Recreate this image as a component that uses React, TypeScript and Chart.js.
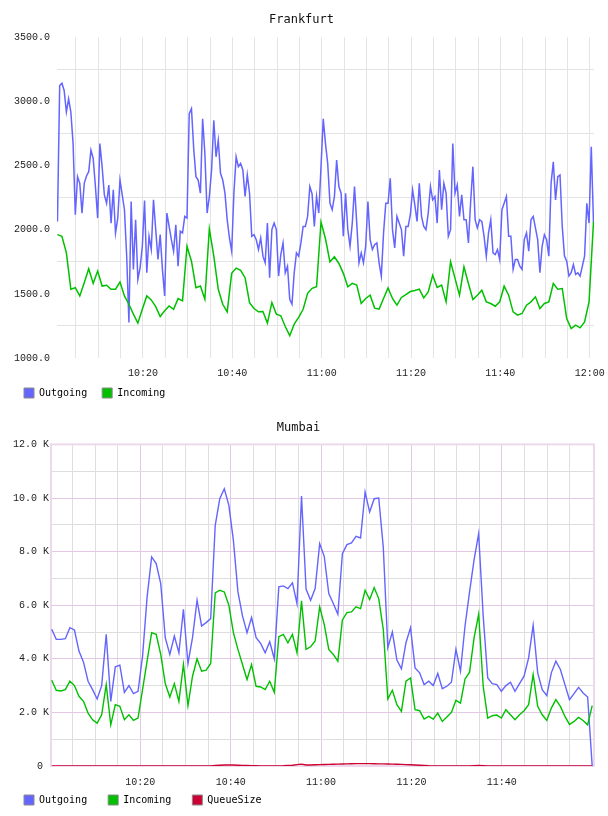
import React, { useEffect, useRef } from "react";
import { Chart, registerables } from "chart.js";

Chart.register(...registerables);

// ---------- Frankfurt (top) ----------
const topTitle = "Frankfurt";
const topSeriesNames = ["Outgoing", "Incoming"];
// minutes after 10:00
const topOutgoingStart = 0.85;
const topOutgoingStep = 0.5;
const topIncomingStart = 0.85;
const topIncomingStep = 1;
const topXRange = [0.75, 120.96];
const topYRange = [1000, 3500];
const topXTicks = [5, 10, 15, 20, 25, 30, 35, 40, 45, 50, 55, 60, 65, 70, 75, 80, 85, 90, 95, 100, 105, 110, 115, 120];
const topYTicks = [1000, 1250, 1500, 1750, 2000, 2250, 2500, 2750, 3000, 3250, 3500];

const topOutgoing = [
  2065, 3125, 3143, 3086, 2918, 3021, 2918, 2672, 2117, 2414,
  2362, 2130, 2362, 2419, 2453, 2621, 2556, 2337, 2091, 2672,
  2492, 2272, 2207, 2349, 2052, 2311, 1975, 2091, 2388, 2272,
  2156, 1794, 1277, 2220, 1691, 2078, 1613, 1703, 1871, 2228,
  1665, 1949, 1846, 2233, 2001, 1768, 1962, 1691, 1484, 2130,
  2026, 1923, 1833, 2039, 1716, 1988, 1975, 2104, 2091, 2905,
  2944, 2634, 2414, 2388, 2285, 2866, 2595, 2130, 2259, 2466,
  2853, 2569, 2698, 2440, 2388, 2285, 2078, 1936, 1833, 2285,
  2569, 2492, 2517, 2466, 2259, 2427, 2285, 1949, 1962, 1923,
  1846, 1936, 1794, 1742, 2052, 1626, 2001, 2052, 2001, 1639,
  1807, 1897, 1665, 1716, 1458, 1419, 1665, 1820, 1794, 1897,
  2026, 2026, 2104, 2337, 2280, 2026, 2259, 2130, 2492, 2866,
  2672, 2517, 2207, 2156, 2259, 2543, 2337, 2285, 1949, 2285,
  2001, 1871, 2052, 2337, 2052, 1742, 1820, 1742, 1871, 2220,
  1923, 1846, 1884, 1897, 1742, 1639, 1975, 2207, 2207, 2401,
  2001, 1859, 2104, 2052, 2001, 1794, 2026, 2026, 2117, 2311,
  2194, 2065, 2362, 2104, 2026, 2001, 2130, 2337, 2233, 2259,
  2052, 2466, 2156, 2362, 2285, 1949, 2001, 2672, 2285, 2349,
  2104, 2272, 2078, 2078, 1897, 2220, 2492, 2078, 2014, 2078,
  2065, 1949, 1794, 1975, 2078, 1820, 1807, 1846, 1768, 2156,
  2207, 2259, 1949, 1949, 1691, 1768, 1768, 1716, 1691, 1923,
  1975, 1833, 2078, 2104, 2014, 1923, 1665, 1871, 1962, 1923,
  1794, 2362, 2530, 2233, 2414, 2427, 2026, 1794, 1755, 1639,
  1665, 1729, 1652, 1665, 1639, 1716, 1794, 2207, 2052, 2647,
  2052,
];

const topIncoming = [
  1962, 1949, 1820, 1536, 1548, 1484, 1587, 1696, 1582, 1678,
  1561, 1567, 1536, 1536, 1592, 1484, 1419, 1342, 1272, 1380,
  1484, 1453, 1401, 1324, 1368, 1406, 1380, 1463, 1445, 1871,
  1755, 1548, 1561, 1458, 2006, 1794, 1536, 1419, 1360, 1660,
  1701, 1683, 1626, 1432, 1386, 1360, 1362, 1272, 1432, 1342,
  1329, 1246, 1174, 1264, 1316, 1380, 1504, 1543, 1556, 2060,
  1930, 1750, 1789, 1737, 1660, 1555, 1582, 1568, 1425, 1464,
  1490, 1389, 1381, 1464, 1547, 1464, 1412, 1472, 1495, 1518,
  1526, 1537, 1469, 1516, 1645, 1550, 1568, 1438, 1750, 1621,
  1490, 1711, 1581, 1456, 1490, 1529, 1438, 1425, 1404, 1438,
  1560, 1490, 1360, 1334, 1347, 1412, 1438, 1477, 1386, 1425,
  1438, 1581, 1537, 1542, 1308, 1230, 1256, 1235, 1282, 1438,
  2063,
];

// ---------- Mumbai (bottom) ----------
const bottomTitle = "Mumbai";
const bottomSeriesNames = ["Outgoing", "Incoming", "QueueSize"];
const bottomFirstTime = 0.4;
const bottomLastTime = 120.0;
const bottomXRange = [0.24, 120.4];
const bottomYRange = [0, 12000];
const bottomXTicks = [5, 10, 15, 20, 25, 30, 35, 40, 45, 50, 55, 60, 65, 70, 75, 80, 85, 90, 95, 100, 105, 110, 115];
const bottomYTicks = [0, 1000, 2000, 3000, 4000, 5000, 6000, 7000, 8000, 9000, 10000, 11000, 12000];

const bottomOutgoing = [
  5100, 4725, 4725, 4750, 5162, 5075, 4287, 3875, 3162, 2850,
  2500, 3000, 4912, 2412, 3700, 3762, 2750, 3000, 2700, 2787,
  4100, 6300, 7800, 7551, 6806, 4787, 4162, 4850, 4225, 5850,
  3825, 4787, 6185, 5225, 5350, 5500, 8980, 9973, 10346, 9725,
  8420, 6495, 5600, 4975, 5537, 4787, 4575, 4225, 4637, 4000,
  6682, 6719, 6620, 6831, 6061, 10073, 6600, 6185, 6620, 8297,
  7825, 6433, 6061, 5662, 7924, 8259, 8321, 8570, 8508, 10222,
  9476, 9973, 9998, 8172, 4412, 5000, 3950, 3625, 4600, 5162,
  3662, 3475, 3037, 3162, 3000, 3450, 2887, 2975, 3125, 4350,
  3537, 5225, 6500, 7700, 8670, 5600, 3287, 3075, 3037, 2787,
  3000, 3125, 2787, 3075, 3350, 4037, 5250, 3475, 2850, 2625,
  3475, 3912, 3600, 3037, 2475, 2700, 2937, 2725, 2575, 0,
];

const bottomIncoming = [
  3200, 2825, 2800, 2850, 3162, 3000, 2600, 2412, 1975, 1725,
  1600, 1912, 3037, 1537, 2287, 2225, 1725, 1912, 1700, 1787,
  2850, 3912, 4975, 4912, 4162, 3075, 2575, 3075, 2412, 3787,
  2250, 3350, 4000, 3537, 3575, 3825, 6458, 6558, 6495, 6000,
  4975, 4350, 3787, 3225, 3787, 2975, 2950, 2850, 3162, 2750,
  4825, 4912, 4600, 4912, 4225, 6160, 4350, 4450, 4662, 5937,
  5287, 4350, 4162, 3912, 5450, 5725, 5750, 5937, 5875, 6558,
  6210, 6657, 6247, 5100, 2500, 2825, 2287, 2037, 3162, 3287,
  2100, 2062, 1750, 1850, 1750, 1975, 1662, 1825, 2000, 2450,
  2350, 3250, 3500, 4787, 5662, 2975, 1787, 1875, 1900, 1787,
  2100, 1912, 1725, 1912, 2062, 2287, 3412, 2225, 1912, 1700,
  2162, 2475, 2225, 1850, 1550, 1662, 1812, 1700, 1537, 2250,
];

const bottomQueueSize = [
  0, 0, 0, 0, 0, 0, 0, 0, 0, 0,
  0, 0, 0, 0, 0, 0, 0, 0, 0, 0,
  0, 0, 0, 0, 0, 0, 0, 0, 0, 0,
  0, 0, 0, 0, 0, 0, 20, 30, 35, 40,
  35, 30, 25, 20, 15, 10, 5, 0, 0, 0,
  5, 10, 20, 30, 50, 70, 40, 40, 45, 50,
  55, 60, 65, 70, 75, 80, 85, 90, 90, 90,
  90, 85, 80, 80, 75, 70, 65, 60, 50, 45,
  40, 30, 20, 10, 5, 0, 0, 0, 0, 0,
  0, 0, 0, 10, 20, 15, 5, 0, 0, 0,
  0, 0, 0, 0, 0, 0, 0, 0, 0, 0,
  0, 0, 0, 0, 0, 0, 0, 0, 0, 0,
];

// ---------- styling ----------
const colOut = "#6464ff";
const colIn = "#00c000";
const colQueue = "#cc0033";
const monoTitle = "'DejaVu Sans Mono', monospace";
const monoTick = "'Liberation Mono', monospace";

const fmtTime = (m: number) => {
  const h = 10 + Math.floor(m / 60);
  const mm = Math.round(m % 60);
  return h + ":" + String(mm).padStart(2, "0");
};

const legendGen = (chart: any) =>
  chart.data.datasets.map((ds: any, i: number) => ({
    text: ds.label,
    fillStyle: ds.borderColor,
    strokeStyle: "#8a8a8a",
    lineWidth: 1,
    hidden: false,
    datasetIndex: i,
    fontColor: "#000",
  }));

const framePlugin = {
  id: "frame",
  beforeDatasetsDraw(chart: any) {
    const { ctx, chartArea } = chart;
    ctx.save();
    ctx.strokeStyle = "#ecdaec";
    ctx.lineWidth = 2;
    ctx.strokeRect(chartArea.left, chartArea.top, chartArea.right - chartArea.left, chartArea.bottom - chartArea.top);
    ctx.restore();
  },
};

// moves the legend row up so it sits close under the time labels
const legendShift = (dy: number) => ({
  id: "legendShift",
  afterLayout(chart: any) {
    const l = chart.legend;
    if (l) {
      l.top += dy;
    }
  },
});

function makeTopConfig(): any {
  const out = topOutgoing.map((v, i) => ({ x: topOutgoingStart + i * topOutgoingStep, y: v }));
  const inc = topIncoming.map((v, i) => ({ x: topIncomingStart + i * topIncomingStep, y: v }));
  return {
    type: "line",
    data: {
      datasets: [
        { label: topSeriesNames[0], data: out, borderColor: colOut, backgroundColor: colOut, borderWidth: 1.5, pointRadius: 0, tension: 0, fill: false, order: 2 },
        { label: topSeriesNames[1], data: inc, borderColor: colIn, backgroundColor: colIn, borderWidth: 1.5, pointRadius: 0, tension: 0, fill: false, order: 1 },
      ],
    },
    plugins: [legendShift(-7)],
    options: {
      responsive: false,
      animation: false,
      events: [],
      layout: { padding: { left: 9, right: 14, top: 0, bottom: 0 } },
      plugins: {
        title: {
          display: true,
          text: topTitle,
          color: "#111",
          font: { family: monoTitle, size: 12, weight: "normal" },
          padding: { top: 13, bottom: 10 },
        },
        legend: {
          position: "bottom",
          align: "start",
          maxHeight: 28,
          labels: {
            boxWidth: 10,
            boxHeight: 10,
            padding: 15,
            color: "#000",
            font: { family: monoTitle, size: 10 },
            generateLabels: legendGen,
          },
        },
        tooltip: { enabled: false },
      },
      scales: {
        x: {
          type: "linear",
          min: topXRange[0],
          max: topXRange[1],
          afterBuildTicks: (s: any) => {
            s.ticks = topXTicks.map((v) => ({ value: v }));
          },
          afterFit: (s: any) => {
            s.height = 22;
            s.paddingLeft = 0;
            s.paddingRight = 0;
          },
          grid: { color: "#e4e4e4", lineWidth: 1, drawTicks: false },
          border: { display: false },
          ticks: {
            padding: 9,
            maxRotation: 0,
            autoSkip: false,
            color: "#222",
            font: { family: monoTick, size: 10 },
            callback: (v: number) => (v % 20 === 0 ? fmtTime(v) : ""),
          },
        },
        y: {
          type: "linear",
          min: topYRange[0],
          max: topYRange[1],
          afterBuildTicks: (s: any) => {
            s.ticks = topYTicks.map((v) => ({ value: v }));
          },
          afterFit: (s: any) => {
            s.width = 48;
            s.paddingTop = 0;
            s.paddingBottom = 0;
          },
          grid: {
            color: (c: any) => (c.tick && c.tick.value % 500 === 0 ? "rgba(0,0,0,0)" : "#e4e4e4"),
            lineWidth: 1,
            drawTicks: false,
          },
          border: { display: false },
          ticks: {
            padding: 7,
            autoSkip: false,
            color: "#222",
            font: { family: monoTick, size: 10 },
            callback: (v: number) => (v % 500 === 0 ? v.toFixed(1) : ""),
          },
        },
      },
    },
  };
}

function makeBottomConfig(): any {
  const n = bottomOutgoing.length;
  const step = (bottomLastTime - bottomFirstTime) / (n - 1);
  const toPts = (arr: number[]) => arr.map((v, i) => ({ x: bottomFirstTime + i * step, y: v }));
  const major = "#e2c8e2";
  const minor = "#dedede";
  return {
    type: "line",
    data: {
      datasets: [
        { label: bottomSeriesNames[0], data: toPts(bottomOutgoing), borderColor: colOut, backgroundColor: colOut, borderWidth: 1.4, pointRadius: 0, tension: 0, fill: false, order: 3 },
        { label: bottomSeriesNames[1], data: toPts(bottomIncoming), borderColor: colIn, backgroundColor: colIn, borderWidth: 1.4, pointRadius: 0, tension: 0, fill: false, order: 2 },
        { label: bottomSeriesNames[2], data: toPts(bottomQueueSize), borderColor: colQueue, backgroundColor: colQueue, borderWidth: 1.4, pointRadius: 0, tension: 0, fill: false, order: 1 },
      ],
    },
    plugins: [framePlugin, legendShift(-14)],
    options: {
      responsive: false,
      animation: false,
      events: [],
      layout: { padding: { left: 3, right: 14, top: 0, bottom: 1 } },
      plugins: {
        title: {
          display: true,
          text: bottomTitle,
          color: "#111",
          font: { family: monoTitle, size: 12, weight: "normal" },
          padding: { top: 13, bottom: 9 },
        },
        legend: {
          position: "bottom",
          align: "start",
          maxHeight: 27,
          labels: {
            boxWidth: 10,
            boxHeight: 10,
            padding: 21,
            color: "#000",
            font: { family: monoTitle, size: 10 },
            generateLabels: legendGen,
          },
        },
        tooltip: { enabled: false },
      },
      scales: {
        x: {
          type: "linear",
          min: bottomXRange[0],
          max: bottomXRange[1],
          afterBuildTicks: (s: any) => {
            s.ticks = bottomXTicks.map((v) => ({ value: v }));
          },
          afterFit: (s: any) => {
            s.height = 22;
            s.paddingLeft = 0;
            s.paddingRight = 0;
          },
          grid: {
            color: (c: any) => (c.tick && c.tick.value % 20 === 0 ? major : minor),
            lineWidth: 1,
            drawTicks: false,
          },
          border: { display: false },
          ticks: {
            padding: 10,
            maxRotation: 0,
            autoSkip: false,
            color: "#222",
            font: { family: monoTick, size: 10 },
            callback: (v: number) => (v % 20 === 0 ? fmtTime(v) : ""),
          },
        },
        y: {
          type: "linear",
          min: bottomYRange[0],
          max: bottomYRange[1],
          afterBuildTicks: (s: any) => {
            s.ticks = bottomYTicks.map((v) => ({ value: v }));
          },
          afterFit: (s: any) => {
            s.width = 48;
            s.paddingTop = 0;
            s.paddingBottom = 0;
          },
          grid: {
            color: (c: any) => (c.tick && c.tick.value % 2000 === 0 ? major : minor),
            lineWidth: 1,
            drawTicks: false,
          },
          border: { display: false },
          ticks: {
            padding: 2,
            autoSkip: false,
            color: "#222",
            font: { family: monoTick, size: 10 },
            callback: (v: number) => (v === 0 ? "0 " : v % 2000 === 0 ? (v / 1000).toFixed(1) + " K" : ""),
          },
        },
      },
    },
  };
}

function ChartBox({ make }: { make: () => any }) {
  const ref = useRef<HTMLCanvasElement | null>(null);
  useEffect(() => {
    if (!ref.current) return;
    const chart = new Chart(ref.current, make());
    return () => chart.destroy();
  }, [make]);
  return <canvas ref={ref} width={608} height={408} style={{ display: "block", width: 608, height: 408 }} />;
}

export default function App() {
  return (
    <div style={{ position: "absolute", left: 0, top: 0, width: 608, height: 816, background: "#ffffff" }}>
      <ChartBox make={makeTopConfig} />
      <ChartBox make={makeBottomConfig} />
    </div>
  );
}
